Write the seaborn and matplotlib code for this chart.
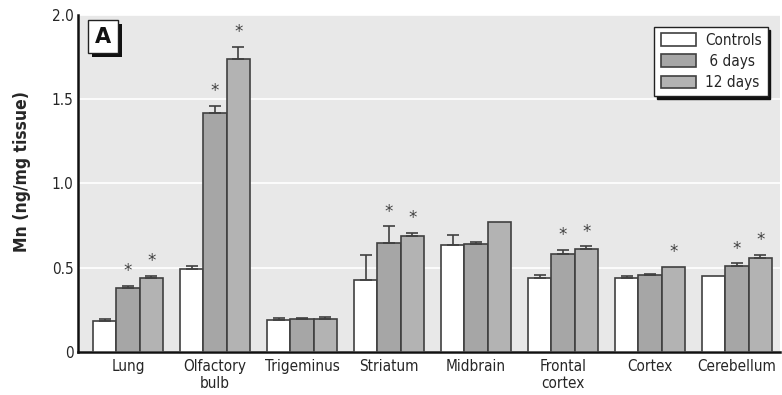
import matplotlib
matplotlib.use("Agg")
import matplotlib.pyplot as plt
from matplotlib.patches import Patch, Rectangle
import pandas as pd
import seaborn as sns

# Tissue Mn concentrations (ng/mg tissue), mean and upper SE
tissues = ["Lung", "Olfactory\nbulb", "Trigeminus", "Striatum", "Midbrain",
           "Frontal\ncortex", "Cortex", "Cerebellum"]
groups = ["Controls", "6 days", "12 days"]

controls = [0.183, 0.492, 0.189, 0.427, 0.635, 0.439, 0.439, 0.449]
days6 = [0.381, 1.419, 0.195, 0.643, 0.637, 0.581, 0.455, 0.510]
days12 = [0.440, 1.740, 0.196, 0.685, 0.768, 0.611, 0.504, 0.558]

controls_se = [0.010, 0.018, 0.011, 0.150, 0.058, 0.017, 0.011, 0.0]
days6_se = [0.012, 0.039, 0.005, 0.101, 0.016, 0.026, 0.009, 0.014]
days12_se = [0.010, 0.070, 0.010, 0.023, 0.0, 0.014, 0.0, 0.019]

# Significance flags (vs controls)
controls_sig = [False] * 8
days6_sig = [True, True, False, True, False, True, False, True]
days12_sig = [True, True, False, True, False, True, True, True]

df = pd.DataFrame({
    "tissue": tissues * 3,
    "group": [g for g in groups for _ in tissues],
    "mn": controls + days6 + days12,
})
se_all = controls_se + days6_se + days12_se
sig_all = controls_sig + days6_sig + days12_sig

sns.set_theme(style="white")
plt.rcParams["font.family"] = ["DejaVu Sans"]
cond = dict(fontstretch="condensed")

fig = plt.figure(figsize=(7.82, 3.95), dpi=100)
ax = fig.add_axes([0.0994, 0.1096, 0.8976, 0.8524])
ax.set_facecolor("#e8e8e8")

palette = {"Controls": "#ffffff", "6 days": "#a6a6a6", "12 days": "#b3b3b3"}
sns.barplot(data=df, x="tissue", y="mn", hue="group", hue_order=groups,
            order=tissues, palette=palette, errorbar=None, width=0.8,
            edgecolor="#404040", linewidth=1.2, saturation=1, ax=ax,
            zorder=3, legend=False)

# Upper error bars and significance stars, placed on the drawn bars
patches = [p for p in ax.patches if p.get_height() > 0]
lookup = {}
for i, (t, g, v) in enumerate(zip(df["tissue"], df["group"], df["mn"])):
    lookup[(tissues.index(t), groups.index(g))] = (v, se_all[i], sig_all[i])

for p in patches:
    xc = p.get_x() + p.get_width() / 2
    ti = int(round(xc))
    gi = int(round((xc - ti) / 0.2667)) + 1
    v, se, sig = lookup[(ti, gi)]
    if se > 0:
        ax.errorbar(xc, v, yerr=[[0], [se]], fmt="none", ecolor="#404040",
                    elinewidth=1.2, capsize=4.5, capthick=1.2, zorder=4)
    if sig:
        ax.text(xc, v + se + 0.035, "*", ha="center", va="bottom",
                fontsize=12, color="#404040", zorder=5)

ax.set_xlim(-0.578, 7.49)
ax.set_ylim(0, 2.0)
ax.set_yticks([0, 0.5, 1.0, 1.5, 2.0])
ax.set_yticklabels(["0", "0.5", "1.0", "1.5", "2.0"], fontsize=11, **cond)
ax.set_xticks(range(len(tissues)))
ax.set_xticklabels(tissues, fontsize=11, linespacing=1.2, **cond)
ax.tick_params(axis="x", length=0, pad=5)
ax.tick_params(axis="y", length=0, pad=3)
ax.yaxis.grid(True, color="white", linewidth=1.2, zorder=0)
ax.set_axisbelow(True)
for side in ["top", "right"]:
    ax.spines[side].set_visible(False)
for side in ["left", "bottom"]:
    ax.spines[side].set_color("#111111")
    ax.spines[side].set_linewidth(1.8)
ax.set_xlabel("")
ax.set_ylabel("Mn (ng/mg tissue)", fontsize=12.5, fontweight="bold", **cond)
ax.yaxis.set_label_coords(-0.066, 0.534)

# Legend with drop shadow
handles = [Patch(facecolor=palette[g], edgecolor="#404040", linewidth=1.2)
           for g in groups]
leg = ax.legend(handles, ["Controls", " 6 days", "12 days"], loc="upper right",
                bbox_to_anchor=(0.983, 0.965), borderaxespad=0,
                frameon=True, fancybox=False,
                shadow={"color": "#111111", "alpha": 1.0},
                edgecolor="#222222", framealpha=1.0, borderpad=0.4,
                handlelength=2.3, handleheight=0.9, handletextpad=0.6,
                labelspacing=0.4, prop={"size": 11, "stretch": "condensed"})
leg.get_frame().set_linewidth(1.0)

# Panel label in a box with a drop shadow
x0, x1, y0, y1 = 0.0147, 0.0574, 0.887, 0.985
dx, dy = 0.0057, -0.0125
ax.add_patch(Rectangle((x0 + dx, y0 + dy), x1 - x0, y1 - y0,
                       transform=ax.transAxes, facecolor="#111111",
                       edgecolor="none", zorder=5.5, clip_on=False))
ax.add_patch(Rectangle((x0, y0), x1 - x0, y1 - y0, transform=ax.transAxes,
                       facecolor="white", edgecolor="#222222", linewidth=1.0,
                       zorder=5.6, clip_on=False))
ax.text((x0 + x1) / 2, (y0 + y1) / 2, "A", transform=ax.transAxes,
        ha="center", va="center", fontsize=15, fontweight="bold",
        color="#111111", zorder=6)

fig.savefig("out.png", dpi=100)
